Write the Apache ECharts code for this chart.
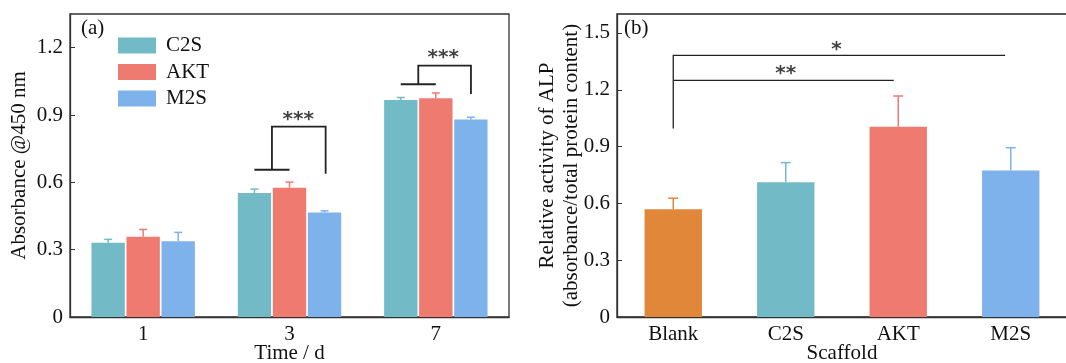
<!DOCTYPE html>
<html>
<head>
<meta charset="utf-8">
<script src="https://cdn.jsdelivr.net/npm/echarts@6/dist/echarts.min.js"></script>
<style>
  html, body { margin: 0; padding: 0; background: #fff; }
  #chart { width: 1066px; height: 363px; }
</style>
</head>
<body>
<div id="chart"></div>
<script>
// (a) cell viability, absorbance @450 nm
const days = ['1', '3', '7'];
const c2s = [0.331, 0.553, 0.967];
const c2sErr = [0.015, 0.017, 0.011];
const akt = [0.357, 0.576, 0.975];
const aktErr = [0.033, 0.025, 0.023];
const m2s = [0.337, 0.466, 0.880];
const m2sErr = [0.040, 0.007, 0.010];

// (b) ALP activity
const scaffolds = ['Blank', 'C2S', 'AKT', 'M2S'];
const alp = [0.569, 0.711, 1.004, 0.773];
const alpErr = [0.058, 0.104, 0.163, 0.121];

// significance brackets, x in category index units
const bracketsA = [
  [[0.76, 0.656], [1.0, 0.656]],
  [[0.88, 0.656], [0.88, 0.848], [1.247, 0.848], [1.247, 0.638]],
  [[1.76, 1.037], [2.0, 1.037]],
  [[1.88, 1.037], [1.88, 1.120], [2.24, 1.120], [2.24, 0.994]]
];
const starsA = [[1.06, 0.878, '***'], [2.05, 1.153, '***']];
const bracketsB = [
  [[0, 0.995], [0, 1.382], [2.95, 1.382]],
  [[0, 1.250], [1.96, 1.250]]
];
const starsB = [[1.45, 1.41, '*'], [1.0, 1.286, '**']];

const colC2S = '#72BBC6', colAKT = '#EF7A70', colM2S = '#7EB2EA', colBlank = '#E1873A';
const alpColors = [colBlank, colC2S, colAKT, colM2S];
const font = 'Liberation Serif';
const fs = 21;

function errorBars(vals, errs, offset, cap, colors, xi, yi) {
  return {
    type: 'custom',
    xAxisIndex: xi,
    yAxisIndex: yi,
    z: 3,
    silent: true,
    data: vals.map((v, i) => [i, v, v + errs[i]]),
    renderItem: function (params, api) {
      let w = api.size([1, 0])[0];
      let b = api.coord([api.value(0), api.value(1)]);
      let t = api.coord([api.value(0), api.value(2)]);
      let x = b[0] + offset * w;
      let c = Array.isArray(colors) ? colors[params.dataIndex] : colors;
      return {
        type: 'group',
        children: [
          { type: 'line', shape: { x1: x, y1: b[1], x2: x, y2: t[1] }, style: { stroke: c, lineWidth: 1.5 } },
          { type: 'line', shape: { x1: x - cap, y1: t[1], x2: x + cap, y2: t[1] }, style: { stroke: c, lineWidth: 1.5 } }
        ]
      };
    }
  };
}

function brackets(list, xi, yi, width) {
  return {
    type: 'lines',
    coordinateSystem: 'cartesian2d',
    xAxisIndex: xi,
    yAxisIndex: yi,
    polyline: true,
    silent: true,
    z: 4,
    lineStyle: { color: '#222', width: width, opacity: 1 },
    data: list.map(c => ({ coords: c }))
  };
}

function stars(list, xi, yi) {
  return {
    type: 'scatter',
    xAxisIndex: xi,
    yAxisIndex: yi,
    symbolSize: 0,
    silent: true,
    z: 5,
    data: list.map(s => ({ value: [s[0], s[1]], name: s[2] })),
    label: {
      show: true,
      position: 'inside',
      formatter: '{b}',
      fontFamily: 'DejaVu Sans',
      fontWeight: 'bold',
      fontSize: 20,
      color: '#111'
    }
  };
}

const chart = echarts.init(document.getElementById('chart'));

const yAxisBase = {
  type: 'value',
  min: 0,
  interval: 0.3,
  splitLine: { show: false },
  axisLine: { show: true, onZero: false, lineStyle: { color: '#333', width: 1.3 } },
  axisTick: { show: true, inside: true, length: 5, lineStyle: { color: '#333' } },
  axisLabel: {
    color: '#111', fontFamily: font, fontSize: fs, margin: 7, showMaxLabel: false,
    formatter: v => v === 0 ? '0' : v.toFixed(1)
  },
  nameLocation: 'middle',
  nameMoveOverlap: false,
  nameTextStyle: { color: '#111', fontFamily: font, fontSize: fs }
};

const xAxisBase = {
  type: 'category',
  axisLine: { show: true, lineStyle: { color: '#333', width: 1.3 } },
  axisTick: { show: false },
  axisLabel: { color: '#111', fontFamily: font, fontSize: fs, margin: 7 },
  nameLocation: 'middle',
  nameGap: 26,
  nameMoveOverlap: false,
  nameTextStyle: { color: '#111', fontFamily: font, fontSize: fs }
};

chart.setOption({
  animation: false,
  backgroundColor: '#fff',
  title: [
    { text: '(a)', left: 81, top: 18, padding: 0, textStyle: { fontFamily: font, fontSize: fs, fontWeight: 'normal', color: '#111' } },
    { text: '(b)', left: 624, top: 18, padding: 0, textStyle: { fontFamily: font, fontSize: fs, fontWeight: 'normal', color: '#111' } }
  ],
  legend: {
    data: ['C2S', 'AKT', 'M2S'],
    orient: 'vertical',
    left: 118,
    top: 35,
    padding: 0,
    itemWidth: 38,
    itemHeight: 16,
    itemGap: 5.5,
    icon: 'rect',
    textStyle: { fontFamily: font, fontSize: fs, color: '#111', lineHeight: 16, padding: [0, 0, 0, 5] }
  },
  grid: [
    { left: 70, top: 14, width: 439, height: 303, show: true, borderColor: '#333', borderWidth: 1.3, containLabel: false, outerBoundsMode: 'none' },
    { left: 617, top: 14, width: 450, height: 303, show: true, borderColor: '#222', borderWidth: 1.3, containLabel: false, outerBoundsMode: 'none' }
  ],
  xAxis: [
    Object.assign({}, xAxisBase, { gridIndex: 0, data: days, name: 'Time / d' }),
    Object.assign({}, xAxisBase, { gridIndex: 1, data: scaffolds, name: 'Scaffold' }),
    { type: 'value', gridIndex: 0, min: -0.5, max: 2.5, show: false },
    { type: 'value', gridIndex: 1, min: -0.5, max: 3.5, show: false }
  ],
  yAxis: [
    Object.assign({}, yAxisBase, { gridIndex: 0, max: 1.35, name: 'Absorbance @450 nm', nameGap: 40 }),
    Object.assign({}, yAxisBase, {
      gridIndex: 1, max: 1.6, name: 'Relative activity of ALP\n(absorbance/total protein content)', nameGap: 34,
      nameTextStyle: { color: '#111', fontFamily: font, fontSize: fs, lineHeight: 24 }
    })
  ],
  series: [
    { name: 'C2S', type: 'bar', xAxisIndex: 0, yAxisIndex: 0, data: c2s, barWidth: '22.8%', barGap: '5%', itemStyle: { color: colC2S } },
    { name: 'AKT', type: 'bar', xAxisIndex: 0, yAxisIndex: 0, data: akt, barWidth: '22.8%', barGap: '5%', itemStyle: { color: colAKT } },
    { name: 'M2S', type: 'bar', xAxisIndex: 0, yAxisIndex: 0, data: m2s, barWidth: '22.8%', barGap: '5%', itemStyle: { color: colM2S } },
    errorBars(c2s, c2sErr, -0.2394, 4, colC2S, 0, 0),
    errorBars(akt, aktErr, 0, 4, colAKT, 0, 0),
    errorBars(m2s, m2sErr, 0.2394, 4, colM2S, 0, 0),
    {
      name: 'ALP', type: 'bar', xAxisIndex: 1, yAxisIndex: 1, barWidth: '51%',
      data: alp.map((v, i) => ({ value: v, itemStyle: { color: alpColors[i] } }))
    },
    errorBars(alp, alpErr, 0, 5, alpColors, 1, 1),
    brackets(bracketsA, 2, 0, 1.8),
    stars(starsA, 2, 0),
    brackets(bracketsB, 3, 1, 1.3),
    stars(starsB, 3, 1)
  ]
});
</script>
</body>
</html>
